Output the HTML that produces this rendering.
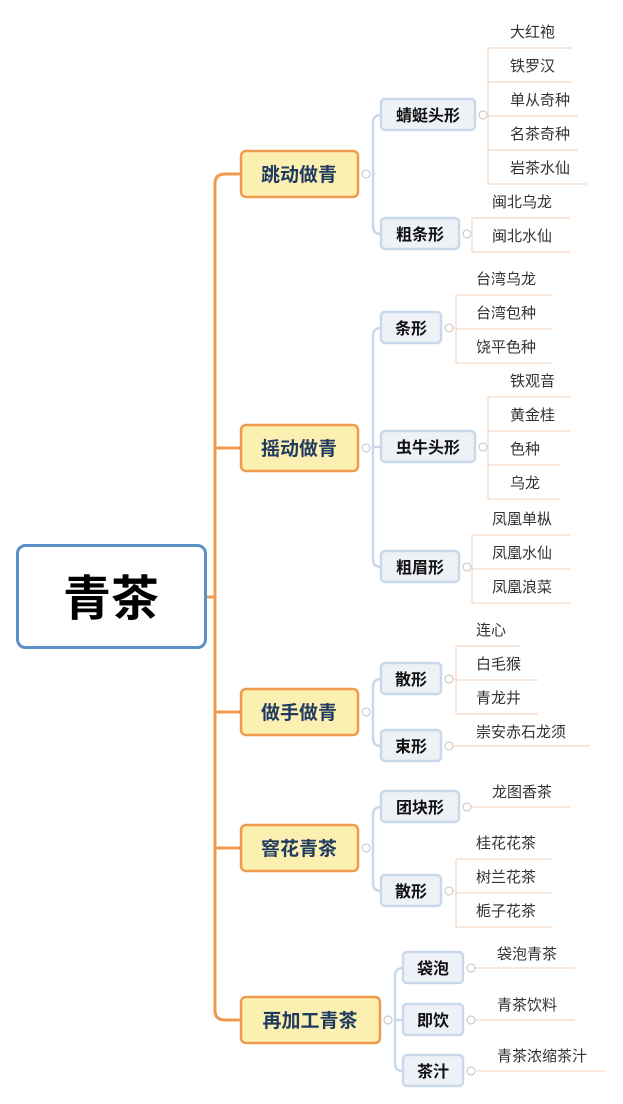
<!DOCTYPE html>
<html><head><meta charset="utf-8"><style>
html,body{margin:0;padding:0;background:#fff;}
svg{display:block;font-family:"Liberation Sans","Noto Sans CJK SC",sans-serif;}
.m{font-size:19px;font-weight:bold;fill:#1f3a5f;}
.s{font-size:16px;font-weight:bold;fill:#111;}
.l{font-size:15px;fill:#333;}
</style></head><body>
<svg width="623" height="1104" viewBox="0 0 623 1104" xmlns="http://www.w3.org/2000/svg">
<!-- trunk -->
<g fill="none" stroke="#ef9a4c" stroke-width="3">
<path d="M206 597 H215"/>
<path d="M241 174 H225 Q215 174 215 184 V1010 Q215 1020 225 1020 H241"/>
<path d="M215 448 Q215 448 225 448 H241"/>
<path d="M215 712 H241"/>
<path d="M215 848 H241"/>
</g>
<!-- root -->
<rect x="17.5" y="545.5" width="188" height="102" rx="8" fill="#fff" stroke="#5b8fc7" stroke-width="3"/>
<text x="111" y="615" text-anchor="middle" font-size="48" font-weight="bold" fill="#000">青茶</text>
<!-- blue connectors -->
<g fill="none" stroke="#c9d8ea" stroke-width="2.5">
<path d="M373 174 H375"/>
<path d="M381 115 Q373 115 373 123 V226 Q373 234 381 234"/>
<path d="M381 328 Q373 328 373 336 V559 Q373 567 381 567"/>
<path d="M373 447 H381"/>
<path d="M381 679 Q373 679 373 687 V738 Q373 746 381 746"/>
<path d="M381 807 Q373 807 373 815 V883 Q373 891 381 891"/>
<path d="M403 968 Q395 968 395 976 V1063 Q395 1071 403 1071"/>
<path d="M395 1020 H403"/>
</g>
<!-- main nodes -->
<g stroke="#ef9a4c" stroke-width="2.5" fill="#fcefb2">
<rect x="241" y="151" width="117" height="46" rx="5"/>
<rect x="241" y="425" width="117" height="46" rx="5"/>
<rect x="241" y="689" width="117" height="46" rx="5"/>
<rect x="241" y="825" width="117" height="46" rx="5"/>
<rect x="241" y="997" width="139" height="46" rx="5"/>
</g>
<text class="m" x="299" y="181" text-anchor="middle">跳动做青</text>
<text class="m" x="299" y="455" text-anchor="middle">摇动做青</text>
<text class="m" x="299" y="719" text-anchor="middle">做手做青</text>
<text class="m" x="299" y="855" text-anchor="middle">窨花青茶</text>
<text class="m" x="310" y="1027" text-anchor="middle">再加工青茶</text>
<!-- collapse circles -->
<g fill="#fff" stroke="#c0c0c8" stroke-width="1">
<circle cx="366" cy="174" r="4"/><circle cx="366" cy="448" r="4"/><circle cx="366" cy="712" r="4"/><circle cx="366" cy="848" r="4"/><circle cx="388" cy="1020" r="4"/>
<circle cx="483" cy="115" r="4"/><circle cx="467" cy="234" r="4"/><circle cx="449" cy="328" r="4"/><circle cx="483" cy="447" r="4"/><circle cx="467" cy="567" r="4"/>
<circle cx="449" cy="679" r="4"/><circle cx="449" cy="746" r="4"/><circle cx="467" cy="807" r="4"/><circle cx="449" cy="891" r="4"/>
<circle cx="471" cy="968" r="4"/><circle cx="471" cy="1020" r="4"/><circle cx="471" cy="1071" r="4"/>
</g>
<!-- sub nodes -->
<g stroke="#c9d8ea" stroke-width="2.5" fill="#eef2f7">
<rect x="381" y="99" width="94" height="31" rx="4"/>
<rect x="381" y="218" width="78" height="31" rx="4"/>
<rect x="381" y="312" width="60" height="31" rx="4"/>
<rect x="381" y="431" width="94" height="31" rx="4"/>
<rect x="381" y="551" width="78" height="31" rx="4"/>
<rect x="381" y="663" width="60" height="31" rx="4"/>
<rect x="381" y="730" width="60" height="31" rx="4"/>
<rect x="381" y="791" width="78" height="31" rx="4"/>
<rect x="381" y="875" width="60" height="31" rx="4"/>
<rect x="403" y="952" width="60" height="31" rx="4"/>
<rect x="403" y="1004" width="60" height="31" rx="4"/>
<rect x="403" y="1055" width="60" height="31" rx="4"/>
</g>
<g class="s" text-anchor="middle">
<text class="s" x="428" y="121" text-anchor="middle">蜻蜓头形</text>
<text class="s" x="420" y="240" text-anchor="middle">粗条形</text>
<text class="s" x="411" y="334" text-anchor="middle">条形</text>
<text class="s" x="428" y="453" text-anchor="middle">虫牛头形</text>
<text class="s" x="420" y="573" text-anchor="middle">粗眉形</text>
<text class="s" x="411" y="685" text-anchor="middle">散形</text>
<text class="s" x="411" y="752" text-anchor="middle">束形</text>
<text class="s" x="420" y="813" text-anchor="middle">团块形</text>
<text class="s" x="411" y="897" text-anchor="middle">散形</text>
<text class="s" x="433" y="974" text-anchor="middle">袋泡</text>
<text class="s" x="433" y="1026" text-anchor="middle">即饮</text>
<text class="s" x="433" y="1077" text-anchor="middle">茶汁</text>
</g>
<!-- leaf lines -->
<g fill="none" stroke="#f7dfcf" stroke-width="1.5">
<path d="M487 115 H488"/>
<path d="M488 48 V184 M488 48 H572 M488 82 H572 M488 116 H578 M488 150 H578 M488 184 H587"/>
<path d="M471 234 H472 M472 218 V252 M472 218 H570 M472 252 H570"/>
<path d="M453 328 H456 M456 295 V363 M456 295 H552 M456 329 H552 M456 363 H552"/>
<path d="M488 397 V499 M488 397 H570 M488 431 H570 M488 465 H560 M488 499 H560"/>
<path d="M471 567 H472 M472 535 V603 M472 535 H570 M472 569 H570 M472 603 H570"/>
<path d="M453 679 H456 M456 646 V714 M456 646 H520 M456 680 H538 M456 714 H538"/>
<path d="M453 746 H590"/>
<path d="M471 807 H570"/>
<path d="M453 891 H456 M456 859 V927 M456 859 H552 M456 893 H552 M456 927 H552"/>
<path d="M475 968 H575"/>
<path d="M475 1020 H575"/>
<path d="M475 1071 H605"/>
</g>
<g class="l">
<text class="l" x="510" y="37">大红袍</text>
<text class="l" x="510" y="71">铁罗汉</text>
<text class="l" x="510" y="105">单从奇种</text>
<text class="l" x="510" y="139">名茶奇种</text>
<text class="l" x="510" y="173">岩茶水仙</text>
<text class="l" x="492" y="207">闽北乌龙</text>
<text class="l" x="492" y="241">闽北水仙</text>
<text class="l" x="476" y="284">台湾乌龙</text>
<text class="l" x="476" y="318">台湾包种</text>
<text class="l" x="476" y="352">饶平色种</text>
<text class="l" x="510" y="386">铁观音</text>
<text class="l" x="510" y="420">黄金桂</text>
<text class="l" x="510" y="454">色种</text>
<text class="l" x="510" y="488">乌龙</text>
<text class="l" x="492" y="524">凤凰单枞</text>
<text class="l" x="492" y="558">凤凰水仙</text>
<text class="l" x="492" y="592">凤凰浪菜</text>
<text class="l" x="476" y="635">连心</text>
<text class="l" x="476" y="669">白毛猴</text>
<text class="l" x="476" y="703">青龙井</text>
<text class="l" x="476" y="737">崇安赤石龙须</text>
<text class="l" x="492" y="797">龙图香茶</text>
<text class="l" x="476" y="848">桂花花茶</text>
<text class="l" x="476" y="882">树兰花茶</text>
<text class="l" x="476" y="916">栀子花茶</text>
<text class="l" x="497" y="959">袋泡青茶</text>
<text class="l" x="497" y="1010">青茶饮料</text>
<text class="l" x="497" y="1061">青茶浓缩茶汁</text>
</g>
</svg>
</body></html>
